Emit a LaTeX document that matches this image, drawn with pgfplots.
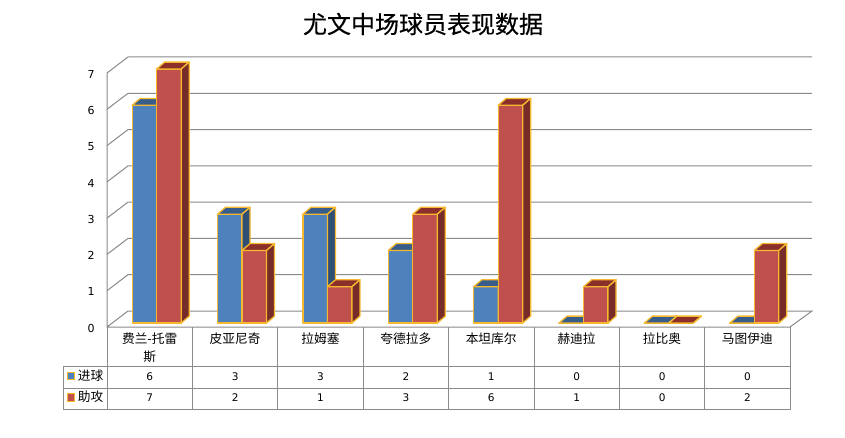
\documentclass[border=0pt]{standalone}
\usepackage{fontspec}
\setmainfont{DejaVu Sans}
\newfontfamily\cjk{Noto Sans CJK SC}
\newfontfamily\cjktitle[FakeBold=0.4]{Noto Sans CJK SC}
\usepackage{pgfplots}
\usepackage{pgfplotstable}
\pgfplotsset{compat=1.18}

\definecolor{gridgray}{HTML}{8A8A8A}
\definecolor{edge}{HTML}{F5B82E}
\definecolor{bluefront}{HTML}{4F81BD}
\definecolor{bluetop}{HTML}{385D8A}
\definecolor{blueside}{HTML}{2F4F75}
\definecolor{redfront}{HTML}{C0504D}
\definecolor{redtop}{HTML}{8C2F2B}
\definecolor{redside}{HTML}{772C2A}

\pgfplotstableread{
i goals assists
0 6 7
1 3 2
2 3 1
3 2 3
4 1 6
5 0 1
6 0 0
7 0 2
}\datatable

% one bar: left edge (category units), value, three face colours
\newcommand{\cuboid}[5]{%
  \pgfmathsetmacro\xa{#1}%
  \pgfmathsetmacro\xb{\xa+0.287}%
  \pgfmathsetmacro\xc{\xb+0.094}%
  \pgfmathsetmacro\xd{\xa+0.094}%
  \pgfmathsetmacro\yt{#2+0.19}%
  \edef\tmp{%
    \noexpand\addplot[draw=edge,line width=1.3pt,line join=round,fill=#3] coordinates {(\xa,0) (\xb,0) (\xb,#2) (\xa,#2)} --cycle;
    \noexpand\addplot[draw=edge,line width=1.3pt,line join=round,fill=#4] coordinates {(\xa,#2) (\xb,#2) (\xc,\yt) (\xd,\yt)} --cycle;
    \noexpand\addplot[draw=edge,line width=1.3pt,line join=round,fill=#5] coordinates {(\xb,0) (\xc,0.19) (\xc,\yt) (\xb,#2)} --cycle;
  }\tmp
}

\begin{document}
\begin{tikzpicture}
\path[fill=white] (0,0) rectangle (845pt,437pt);

% walls and floor, in reference pixels
\begin{scope}[x=1pt,y=-1pt,yshift=437pt]
  \draw[gridgray,line width=1pt] (107,73) -- (107,327) -- (790,327) -- (812,311) -- (128,311) -- (107,327);
  \foreach \yy in {73,109.3,145.6,181.9,218.1,254.4,290.7}
    \draw[gridgray,line width=1pt] (107,\yy) -- (128,\yy-16) -- (812,\yy-16);
\end{scope}

\begin{axis}[
    at={(107pt,110pt)},
    anchor=south west,
    scale only axis,
    width=683pt,
    height=254pt,
    xmin=-0.5, xmax=7.5,
    ymin=-0.11, ymax=6.89,
    clip=false,
    axis line style={draw=none},
    major tick length=0pt,
    xtick={0,1,2,3,4,5,6,7},
    xticklabels={{费兰-托雷\\斯},皮亚尼奇,拉姆塞,夸德拉多,本坦库尔,赫迪拉,拉比奥,马图伊迪},
    xticklabel style={font=\cjk\fontsize{12.7}{18}\selectfont,align=center,anchor=north,yshift=-5.5pt,inner sep=0pt,text width=80pt},
    ytick={-0.11,0.89,1.89,2.89,3.89,4.89,5.89,6.89},
    yticklabels={0,1,2,3,4,5,6,7},
    yticklabel style={font=\fontsize{11}{13}\selectfont,anchor=center,xshift=-16pt,yshift=-1.2pt,inner sep=0pt},
]
\pgfplotsinvokeforeach{0,...,7}{
  \pgfplotstablegetelem{#1}{goals}\of\datatable
  \let\vgoal\pgfplotsretval
  \pgfplotstablegetelem{#1}{assists}\of\datatable
  \let\vassist\pgfplotsretval
  \cuboid{#1-0.205}{\vgoal}{bluefront}{bluetop}{blueside}
  \cuboid{#1+0.082}{\vassist}{redfront}{redtop}{redside}
}
\end{axis}

% title and data table under the axis
\begin{scope}[x=1pt,y=-1pt,yshift=437pt]
  \node[font=\cjktitle\fontsize{24}{28}\selectfont] at (423,24) {尤文中场球员表现数据};
  \draw[gridgray,line width=1pt] (107,327) -- (107,409);
  \draw[gridgray,line width=1pt] (63,366) rectangle (790,409);
  \draw[gridgray,line width=1pt] (63,388) -- (790,388);
  \foreach \k in {1,...,8}
    \draw[gridgray,line width=1pt] ({107+85.4*\k},327) -- ({107+85.4*\k},409);
  \filldraw[draw=edge,fill=bluefront,line width=0.7pt] (67,372) rectangle (74.5,379.5);
  \filldraw[draw=edge,fill=redfront,line width=0.7pt] (67,393.5) rectangle (74.5,401);
  \node[font=\cjk\fontsize{12.7}{14}\selectfont] at (90.5,375.5) {进球};
  \node[font=\cjk\fontsize{12.7}{14}\selectfont] at (90.5,397) {助攻};
  \pgfplotsinvokeforeach{0,...,7}{
    \pgfplotstablegetelem{#1}{goals}\of\datatable
    \node[font=\fontsize{10.5}{12}\selectfont] at ({149.7+85.4*#1},377) {\pgfplotsretval};
    \pgfplotstablegetelem{#1}{assists}\of\datatable
    \node[font=\fontsize{10.5}{12}\selectfont] at ({149.7+85.4*#1},398) {\pgfplotsretval};
  }
\end{scope}
\end{tikzpicture}
\end{document}
